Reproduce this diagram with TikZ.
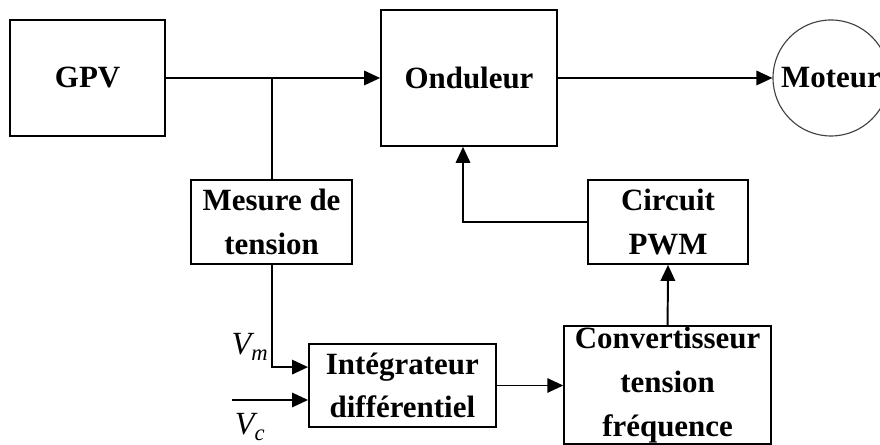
\documentclass[tikz,border=0pt]{standalone}
\usepackage{fontspec}
\setmainfont{Liberation Serif}
\usepackage{tikz}
\usetikzlibrary{positioning,arrows.meta}
\tikzset{
  blok/.style={draw, rectangle, align=center, line width=1.2pt, inner sep=1pt, font=\bfseries\fontsize{22}{31}\selectfont},
  moteurc/.style={draw=black!75, circle, line width=0.8pt, inner sep=0pt, minimum size=29mm, font=\bfseries\fontsize{22}{31}\selectfont},
  arrow/.style={-{Triangle[length=4mm,width=3.6mm]}, line width=1.4pt},
  wire/.style={line width=1.4pt},
  sig/.style={font=\itshape\fontsize{23}{26}\selectfont}
}
\newcommand{\sgn}[2]{#1\textsubscript{#2}}

\begin{document}
\begin{tikzpicture}
  \clip (0,0) rectangle (22,11.125);

  \node[blok, minimum width=38.75mm, minimum height=29mm] (gpv) at (2.19,9.175) {GPV};
  \node[blok, minimum width=44mm, minimum height=34mm] (ond) at (11.725,9.175) {Onduleur};
  \node[moteurc] (mot) at (20.775,9.175) {Moteur};

  \node[blok, minimum width=40.25mm, minimum height=21mm] (mes) at (6.79,5.575) {Mesure de\\ tension};
  \node[blok, minimum width=40mm, minimum height=21mm] (pwm) at (16.7,5.575) {Circuit\\ PWM};

  \node[blok, minimum width=46.75mm, minimum height=20.75mm] (integ) at (10.06,1.4875) {Intégrateur\\ différentiel};
  \node[blok, minimum width=51.75mm, minimum height=29.5mm] (conv) at (16.69,1.5) {Convertisseur\\ tension\\ fréquence};

  \coordinate (vcin) at (5.8,1.125);
  \node[sig] (vmlab) at (6.25,2.45) {\sgn{V}{m}};
  \node[sig] (vclab) at (6.25,0.45) {\sgn{V}{c}};

  \draw[arrow] (gpv.east) -- (ond.west);
  \draw[wire] (mes.north) -- (mes.north |- gpv.east);
  \draw[arrow] (ond.east) -- (mot.west);

  \draw[arrow] (mes.south) |- ([yshift=4.6mm]integ.west);
  \draw[arrow] (vcin) -- (vcin -| integ.west);
  \draw[arrow] (integ.east) -- (integ.east -| conv.west);
  \draw[arrow] (conv.north) -- (pwm.south);
  \draw[arrow] (pwm.west) -| ([xshift=-1.5mm]ond.south);
\end{tikzpicture}
\end{document}
